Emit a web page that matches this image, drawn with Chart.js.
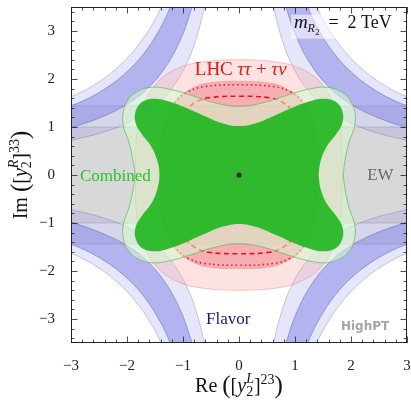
<!DOCTYPE html>
<html>
<head>
<meta charset="utf-8">
<style>
html, body { margin: 0; padding: 0; background: #fff; }
</style>
</head>
<body>
<canvas id="myChart" width="411" height="404"></canvas>
<script src="https://cdn.jsdelivr.net/npm/chart.js@4/dist/chart.umd.min.js"></script>
<script>
const ctx = document.getElementById("myChart").getContext("2d");

// axis ticks
const xTicks = [-3, -2, -1, 0, 1, 2, 3];
const yTicks = [-3, -2, -1, 0, 1, 2, 3];

// EW bands (|Im| limits)
const ewOuter = [[-3.3, 1.44], [3.3, 1.44], [3.3, -1.44], [-3.3, -1.44], [-3.3, 1.44]];
const ewInner = [[-3.3, 1.0], [3.3, 1.0], [3.3, -1.0], [-3.3, -1.0], [-3.3, 1.0]];

// Flavor bands, one per corner (light = wide band, dark = narrow band)
const flavorLightUL = [[-1.22, 4.0], [-1.4, 3.47], [-1.6, 3.04], [-1.85, 2.63], [-2.15, 2.26], [-2.5, 1.94], [-2.9, 1.68], [-3.4, 1.43],
  [-3.4, 0.64], [-2.9, 0.75], [-2.4, 0.9], [-1.95, 1.11], [-1.55, 1.4], [-1.2, 1.81], [-0.95, 2.28], [-0.77, 2.82], [-0.64, 3.39], [-0.54, 4.0], [-1.22, 4.0]];
const flavorDarkUL = [[-1.08, 4.0], [-1.25, 3.44], [-1.45, 2.97], [-1.7, 2.53], [-2.0, 2.15], [-2.4, 1.79], [-2.85, 1.51], [-3.4, 1.26],
  [-3.4, 0.87], [-2.85, 1.04], [-2.35, 1.26], [-1.95, 1.51], [-1.6, 1.84], [-1.3, 2.27], [-1.06, 2.78], [-0.88, 3.35], [-0.74, 4.0], [-1.08, 4.0]];
const flavorLightUR = [[1.22, 4.0], [1.4, 3.47], [1.6, 3.04], [1.85, 2.63], [2.15, 2.26], [2.5, 1.94], [2.9, 1.68], [3.4, 1.43],
  [3.4, 0.64], [2.9, 0.75], [2.4, 0.9], [1.95, 1.11], [1.55, 1.4], [1.2, 1.81], [0.95, 2.28], [0.77, 2.82], [0.64, 3.39], [0.54, 4.0], [1.22, 4.0]];
const flavorDarkUR = [[1.08, 4.0], [1.25, 3.44], [1.45, 2.97], [1.7, 2.53], [2.0, 2.15], [2.4, 1.79], [2.85, 1.51], [3.4, 1.26],
  [3.4, 0.87], [2.85, 1.04], [2.35, 1.26], [1.95, 1.51], [1.6, 1.84], [1.3, 2.27], [1.06, 2.78], [0.88, 3.35], [0.74, 4.0], [1.08, 4.0]];
const flavorLightLL = [[-1.22, -4.0], [-1.4, -3.47], [-1.6, -3.04], [-1.85, -2.63], [-2.15, -2.26], [-2.5, -1.94], [-2.9, -1.68], [-3.4, -1.43],
  [-3.4, -0.64], [-2.9, -0.75], [-2.4, -0.9], [-1.95, -1.11], [-1.55, -1.4], [-1.2, -1.81], [-0.95, -2.28], [-0.77, -2.82], [-0.64, -3.39], [-0.54, -4.0], [-1.22, -4.0]];
const flavorDarkLL = [[-1.08, -4.0], [-1.25, -3.44], [-1.45, -2.97], [-1.7, -2.53], [-2.0, -2.15], [-2.4, -1.79], [-2.85, -1.51], [-3.4, -1.26],
  [-3.4, -0.87], [-2.85, -1.04], [-2.35, -1.26], [-1.95, -1.51], [-1.6, -1.84], [-1.3, -2.27], [-1.06, -2.78], [-0.88, -3.35], [-0.74, -4.0], [-1.08, -4.0]];
const flavorLightLR = [[1.22, -4.0], [1.4, -3.47], [1.6, -3.04], [1.85, -2.63], [2.15, -2.26], [2.5, -1.94], [2.9, -1.68], [3.4, -1.43],
  [3.4, -0.64], [2.9, -0.75], [2.4, -0.9], [1.95, -1.11], [1.55, -1.4], [1.2, -1.81], [0.95, -2.28], [0.77, -2.82], [0.64, -3.39], [0.54, -4.0], [1.22, -4.0]];
const flavorDarkLR = [[1.08, -4.0], [1.25, -3.44], [1.45, -2.97], [1.7, -2.53], [2.0, -2.15], [2.4, -1.79], [2.85, -1.51], [3.4, -1.26],
  [3.4, -0.87], [2.85, -1.04], [2.35, -1.26], [1.95, -1.51], [1.6, -1.84], [1.3, -2.27], [1.06, -2.78], [0.88, -3.35], [0.74, -4.0], [1.08, -4.0]];

// LHC tau tau + tau nu
const lhcOuter = [[1.85, 0], [1.81, 0.97], [1.68, 1.51], [1.47, 1.91], [1.17, 2.18], [0.75, 2.34], [0, 2.4],
  [-0.75, 2.34], [-1.17, 2.18], [-1.47, 1.91], [-1.68, 1.51], [-1.81, 0.97], [-1.85, 0],
  [-1.81, -0.97], [-1.68, -1.51], [-1.47, -1.91], [-1.17, -2.18], [-0.75, -2.34], [0, -2.4],
  [0.75, -2.34], [1.17, -2.18], [1.47, -1.91], [1.68, -1.51], [1.81, -0.97], [1.85, 0]];
const lhcInner = [[1.42, 0], [1.39, 0.79], [1.29, 1.23], [1.13, 1.55], [0.89, 1.77], [0.58, 1.91], [0, 1.95],
  [-0.58, 1.91], [-0.89, 1.77], [-1.13, 1.55], [-1.29, 1.23], [-1.39, 0.79], [-1.42, 0],
  [-1.39, -0.79], [-1.29, -1.23], [-1.13, -1.55], [-0.89, -1.77], [-0.58, -1.91], [0, -1.95],
  [0.58, -1.91], [0.89, -1.77], [1.13, -1.55], [1.29, -1.23], [1.39, -0.79], [1.42, 0]];
const lhcDotted = [[1.36, 0], [1.33, 0.87], [1.25, 1.27], [1.12, 1.54], [0.92, 1.73], [0.63, 1.84], [0, 1.88],
  [-0.63, 1.84], [-0.92, 1.73], [-1.12, 1.54], [-1.25, 1.27], [-1.33, 0.87], [-1.36, 0],
  [-1.33, -0.87], [-1.25, -1.27], [-1.12, -1.54], [-0.92, -1.73], [-0.63, -1.84], [0, -1.88],
  [0.63, -1.84], [0.92, -1.73], [1.12, -1.54], [1.25, -1.27], [1.33, -0.87], [1.36, 0]];
const lhcDashed = [[1.16, 0], [1.14, 0.76], [1.07, 1.1], [0.95, 1.34], [0.78, 1.51], [0.54, 1.61], [0, 1.64],
  [-0.54, 1.61], [-0.78, 1.51], [-0.95, 1.34], [-1.07, 1.1], [-1.14, 0.76], [-1.16, 0],
  [-1.14, -0.76], [-1.07, -1.1], [-0.95, -1.34], [-0.78, -1.51], [-0.54, -1.61], [0, -1.64],
  [0.54, -1.61], [0.78, -1.51], [0.95, -1.34], [1.07, -1.1], [1.14, -0.76], [1.16, 0]];

// Combined fit
const combinedOuter = [[1.86, 0], [1.9, 0.35], [1.97, 0.7], [2.06, 1.0], [2.07, 1.3], [1.98, 1.57], [1.8, 1.75], [1.55, 1.83], [1.25, 1.79], [0.88, 1.67], [0.45, 1.51], [0, 1.43],
  [-0.45, 1.51], [-0.88, 1.67], [-1.25, 1.79], [-1.55, 1.83], [-1.8, 1.75], [-1.98, 1.57], [-2.07, 1.3], [-2.06, 1.0], [-1.97, 0.7], [-1.9, 0.35], [-1.86, 0],
  [-1.9, -0.35], [-1.97, -0.7], [-2.06, -1.0], [-2.07, -1.3], [-1.98, -1.57], [-1.8, -1.75], [-1.55, -1.83], [-1.25, -1.79], [-0.88, -1.67], [-0.45, -1.51], [0, -1.43],
  [0.45, -1.51], [0.88, -1.67], [1.25, -1.79], [1.55, -1.83], [1.8, -1.75], [1.98, -1.57], [2.07, -1.3], [2.06, -1.0], [1.97, -0.7], [1.9, -0.35], [1.86, 0]];
const combinedInner = [[1.42, 0], [1.46, 0.3], [1.57, 0.6], [1.74, 0.86], [1.85, 1.1], [1.84, 1.35], [1.72, 1.53], [1.5, 1.59], [1.25, 1.53], [0.95, 1.4], [0.6, 1.22], [0.3, 1.08], [0, 1.02],
  [-0.3, 1.08], [-0.6, 1.22], [-0.95, 1.4], [-1.25, 1.53], [-1.5, 1.59], [-1.72, 1.53], [-1.84, 1.35], [-1.85, 1.1], [-1.74, 0.86], [-1.57, 0.6], [-1.46, 0.3], [-1.42, 0],
  [-1.46, -0.3], [-1.57, -0.6], [-1.74, -0.86], [-1.85, -1.1], [-1.84, -1.35], [-1.72, -1.53], [-1.5, -1.59], [-1.25, -1.53], [-0.95, -1.4], [-0.6, -1.22], [-0.3, -1.08], [0, -1.02],
  [0.3, -1.08], [0.6, -1.22], [0.95, -1.4], [1.25, -1.53], [1.5, -1.59], [1.72, -1.53], [1.84, -1.35], [1.85, -1.1], [1.74, -0.86], [1.57, -0.6], [1.46, -0.3], [1.42, 0]];

// best fit point
const bestFit = [[0, 0]];

const toXY = (pts) => pts.map((p) => ({ x: p[0], y: p[1] }));

function region(pts, fillColor, lineColor, lineWidth, order, tension) {
  return {
    data: toXY(pts),
    fill: "shape",
    backgroundColor: fillColor,
    borderColor: lineColor,
    borderWidth: lineWidth,
    pointRadius: 0,
    tension: tension === undefined ? 0.4 : tension,
    capBezierPoints: false,
    order: order,
  };
}

function contour(pts, color, dash, order) {
  return {
    data: toXY(pts),
    fill: false,
    borderColor: color,
    borderWidth: 1.6,
    borderDash: dash,
    pointRadius: 0,
    tension: 0.4,
    capBezierPoints: false,
    order: order,
  };
}

const blueLight = "rgba(120, 120, 230, 0.19)";
const blueDark = "rgba(110, 110, 225, 0.42)";
const blueEdge = "rgba(70, 70, 160, 0.5)";

const datasets = [
  { data: toXY(bestFit), showLine: false, pointRadius: 2.6, pointBackgroundColor: "#333", pointBorderWidth: 0, order: 0 },
  region(combinedInner, "rgba(30, 182, 30, 0.9)", "rgba(30, 180, 30, 0)", 0, 1),
  region(combinedOuter, "rgba(215, 250, 205, 0.55)", "rgba(100, 185, 100, 0.75)", 1, 2),
  contour(lhcDashed, "rgb(235, 20, 20)", [5, 3.5], 3),
  contour(lhcDotted, "rgb(225, 30, 30)", [1.5, 3], 4),
  region(lhcInner, "rgba(240, 110, 120, 0.45)", "rgba(220, 90, 90, 0.35)", 0.8, 5),
  region(lhcOuter, "rgba(250, 160, 160, 0.3)", "rgba(230, 120, 120, 0.5)", 0.8, 6),
  region(flavorDarkUL, blueDark, blueEdge, 0.8, 7),
  region(flavorDarkUR, blueDark, blueEdge, 0.8, 7),
  region(flavorDarkLL, blueDark, blueEdge, 0.8, 7),
  region(flavorDarkLR, blueDark, blueEdge, 0.8, 7),
  region(flavorLightUL, blueLight, "rgba(90, 90, 170, 0.4)", 0.8, 8),
  region(flavorLightUR, blueLight, "rgba(90, 90, 170, 0.4)", 0.8, 8),
  region(flavorLightLL, blueLight, "rgba(90, 90, 170, 0.4)", 0.8, 8),
  region(flavorLightLR, blueLight, "rgba(90, 90, 170, 0.4)", 0.8, 8),
  region(ewInner, "rgba(140, 140, 140, 0.2)", "rgba(110, 110, 110, 0.35)", 0.8, 9, 0),
  region(ewOuter, "rgba(140, 140, 140, 0.17)", "rgba(110, 110, 110, 0.35)", 0.8, 10, 0),
];

const SERIF = '"Liberation Serif", "DejaVu Serif", serif';
const f = (size, italic) => (italic ? "italic " : "") + size + "px " + SERIF;

// draws a row of text pieces; "same" puts a piece above/below the previous one
function mathRow(c, parts, x, y, align, color) {
  let cx = 0, start = 0, prevW = 0;
  const placed = [];
  for (const p of parts) {
    c.font = p.f;
    const w = c.measureText(p.t).width;
    let sx;
    if (p.same) {
      sx = start;
      cx = start + Math.max(prevW, w);
    } else {
      sx = cx;
      start = cx;
      prevW = w;
      cx += w;
    }
    placed.push({ p, sx });
  }
  const x0 = align === "center" ? x - cx / 2 : x;
  c.textAlign = "left";
  c.textBaseline = "alphabetic";
  for (const { p, sx } of placed) {
    c.font = p.f;
    c.fillStyle = p.color || color;
    c.fillText(p.t, x0 + sx, y + (p.dy || 0));
  }
}

const decor = {
  id: "decor",
  beforeDraw(chart) {
    const c = chart.ctx;
    c.save();
    c.fillStyle = "#fff";
    c.fillRect(0, 0, chart.width, chart.height);
    c.restore();
  },
  afterDraw(chart) {
    const c = chart.ctx;
    const a = chart.chartArea;
    const xs = chart.scales.x;
    const ys = chart.scales.y;
    c.save();

    // labels inside the plot
    const px = (v) => xs.getPixelForValue(v);
    const py = (v) => ys.getPixelForValue(v);

    c.fillStyle = "rgba(255, 255, 255, 0.55)";
    c.fillRect(px(0.93), py(3.34), 112, 24);
    mathRow(c, [
      { t: "m", f: f(19, true) },
      { t: "R", f: f(12, true), dy: 4 },
      { t: "2", f: f(9), dy: 7 },
      { t: "  =  2 TeV", f: f(18) },
    ], px(0.98), py(3.06), "left", "#111");

    mathRow(c, [
      { t: "LHC ", f: f(19) },
      { t: "ττ", f: f(19, true) },
      { t: " + ", f: f(19) },
      { t: "τν", f: f(19, true) },
    ], px(0.03), py(2.08), "center", "rgb(230, 25, 25)");

    c.textAlign = "left";
    c.textBaseline = "alphabetic";
    c.font = f(17);
    c.fillStyle = "rgb(40, 195, 40)";
    c.fillText("Combined", px(-2.84), py(-0.12));
    c.fillStyle = "rgb(105, 105, 105)";
    c.fillText("EW", px(2.29), py(-0.1));
    c.fillStyle = "rgb(25, 25, 120)";
    c.fillText("Flavor", px(-0.59), py(-3.1));
    c.font = 'bold 12px "DejaVu Sans", sans-serif';
    c.fillStyle = "rgb(165, 165, 165)";
    c.fillText("HighPT", px(1.82), py(-3.23));

    // frame and inward ticks
    c.strokeStyle = "#222";
    c.lineWidth = 1;
    c.strokeRect(a.left + 0.5, a.top + 0.5, a.right - a.left - 1, a.bottom - a.top - 1);
    c.lineWidth = 0.8;
    c.beginPath();
    for (let i = -15; i <= 15; i++) {
      const X = Math.round(px(i / 5)) + 0.5;
      const len = i % 5 === 0 ? 6.5 : 3.5;
      c.moveTo(X, a.bottom); c.lineTo(X, a.bottom - len);
      c.moveTo(X, a.top); c.lineTo(X, a.top + len);
    }
    for (let i = -17; i <= 17; i++) {
      const Y = Math.round(py(i / 5)) + 0.5;
      const len = i % 5 === 0 ? 6.5 : 3.5;
      c.moveTo(a.left, Y); c.lineTo(a.left + len, Y);
      c.moveTo(a.right, Y); c.lineTo(a.right - len, Y);
    }
    c.stroke();

    // axis titles
    const titleParts = (head, up, sup) => [
      { t: head + " ", f: f(20) },
      { t: "(", f: f(25), dy: 1 },
      { t: "[", f: f(20) },
      { t: "y", f: f(20, true) },
      { t: "2", f: f(14), dy: 4 },
      { t: up, f: f(14, true), dy: -9, same: true },
      { t: "]", f: f(20) },
      { t: sup, f: f(14), dy: -8 },
      { t: ")", f: f(25), dy: 1 },
    ];
    mathRow(c, titleParts("Re", "L", "23"), (a.left + a.right) / 2, 392, "center", "#111");
    c.translate(27, (a.top + a.bottom) / 2);
    c.rotate(-Math.PI / 2);
    mathRow(c, titleParts("Im", "R", "33"), 0, 0, "center", "#111");
    c.restore();
  },
};

const fmt = (v) => (v < 0 ? "\u2212" + Math.abs(v) : String(v));

const config = {
  type: "line",
  data: { datasets: datasets },
  options: {
    responsive: false,
    animation: false,
    devicePixelRatio: 1,
    layout: { padding: { top: 7, right: 4, left: 0, bottom: 0 } },
    plugins: { legend: { display: false }, tooltip: { enabled: false } },
    scales: {
      x: {
        type: "linear",
        min: -3,
        max: 3,
        grid: { display: false },
        border: { display: false },
        afterBuildTicks: (s) => { s.ticks = xTicks.map((v) => ({ value: v })); },
        afterFit: (s) => { s.height = 61; s.paddingLeft = 0; s.paddingRight = 0; },
        ticks: { padding: 6, autoSkip: false, maxRotation: 0, color: "#222", font: { family: "Liberation Serif", size: 15 }, callback: fmt },
      },
      y: {
        type: "linear",
        min: -3.5,
        max: 3.5,
        grid: { display: false },
        border: { display: false },
        afterBuildTicks: (s) => { s.ticks = yTicks.map((v) => ({ value: v })); },
        afterFit: (s) => { s.width = 71; s.paddingTop = 0; s.paddingBottom = 0; },
        ticks: { padding: 8, autoSkip: false, color: "#222", font: { family: "Liberation Serif", size: 15 }, callback: fmt },
      },
    },
  },
  plugins: [decor],
};

new Chart(ctx, config);
</script>
</body>
</html>
